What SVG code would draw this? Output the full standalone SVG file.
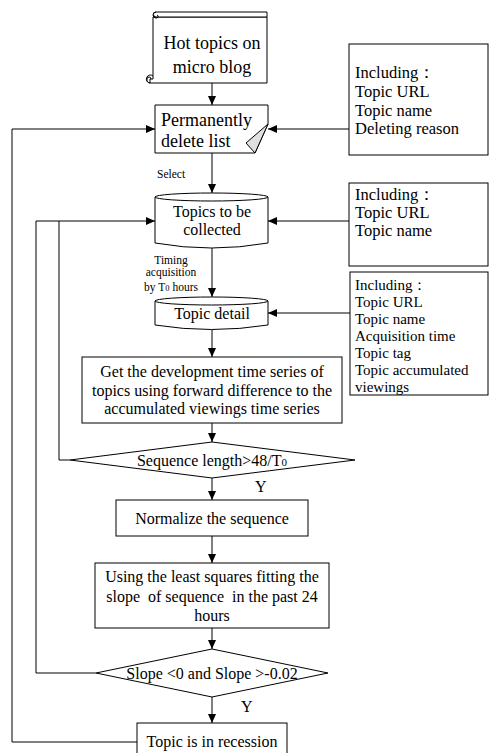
<svg xmlns="http://www.w3.org/2000/svg" width="490" height="753" viewBox="0 0 490 753">
<defs>
<marker id="arr" markerWidth="10" markerHeight="8" refX="9" refY="4" orient="auto" markerUnits="userSpaceOnUse">
<path d="M0,0 L9,4 L0,8 Z" fill="#000"/>
</marker>
<style>
.s{fill:#fff;stroke:#000;stroke-width:1}
.l{fill:none;stroke:#000;stroke-width:1}
.c{fill:none;stroke:#000;stroke-width:1;marker-end:url(#arr)}
text{font-family:"Liberation Serif","Times New Roman",serif;fill:#000}
.t18{font-size:18px}
.t16{font-size:16px}
.t17{font-size:16.5px}
.t15{font-size:15px}
.sm{font-size:11.5px}
.m{text-anchor:middle}
</style>
</defs>
<rect width="490" height="753" fill="#fff"/>

<g id="connectors">
<path class="c" d="M212,83 V105"/>
<path class="c" d="M212,153 V193"/>
<path class="c" d="M212,248 V297"/>
<path class="c" d="M212,330 V357"/>
<path class="c" d="M212,423 V442"/>
<path class="c" d="M212,478 V500"/>
<path class="c" d="M212,536 V563"/>
<path class="c" d="M212,628 V649"/>
<path class="c" d="M212,697 V723"/>
<path class="c" d="M349,129 H268"/>
<path class="c" d="M349,221 H268"/>
<path class="c" d="M350,313 H268"/>
<path class="c" d="M70,460 H59 V221 H155"/>
<path class="l" d="M96,673 H36 V221 H59"/>
<path class="c" d="M137,742 H12 V129 H155"/>
</g>

<g id="hot-topics">
<path class="s" d="M153,17 H267 V83 H150 V79 H153 Z"/>
<path class="s" d="M156,12 H267 V17 H156 A2.5,2.5 0 0 1 156,12 Z"/>
<path class="l" d="M156,12 A3,3 0 0 0 156,18 A1.5,1.5 0 0 0 157,15"/>
<path class="l" d="M153,76 A4,4 0 1 0 150,83"/>
<path class="l" d="M150,83 A3.5,3.5 0 0 1 147,79 A2,2 0 0 1 151,79"/>
<text class="t18 m" x="212" y="49">Hot topics on</text>
<text class="t18 m" x="212" y="73">micro blog</text>
</g>

<g id="delete-list">
<path class="s" d="M155,105 H268 V124 L255,153 H155 Z"/>
<polygon points="268,124 246,143 255,153" fill="#e0e0e0" stroke="#000" stroke-width="1"/>
<text class="t18" x="161" y="126">Permanently</text>
<text class="t18" x="161" y="147">delete list</text>
</g>

<g id="select-label">
<text class="sm" x="157" y="178">Select</text>
</g>

<g id="topics-collected">
<path class="s" d="M155,197 V243 Q211.5,253 268,243 V197"/>
<ellipse class="s" cx="211.5" cy="197" rx="56.5" ry="4"/>
<text class="t16 m" x="212" y="217">Topics to be</text>
<text class="t16 m" x="212" y="235">collected</text>
</g>

<g id="timing-label">
<text class="sm m" x="171" y="264">Timing</text>
<text class="sm m" x="171" y="276">acquisition</text>
<text class="sm m" x="171" y="291">by T<tspan font-size="8.5px">0</tspan> hours</text>
</g>

<g id="topic-detail">
<path class="s" d="M155,301 V325 Q211.5,334 268,325 V301"/>
<ellipse class="s" cx="211.5" cy="301" rx="56.5" ry="4"/>
<text class="t16 m" x="212" y="319">Topic detail</text>
</g>

<g id="get-series">
<rect class="s" x="82" y="357" width="260" height="66"/>
<text class="t16 m" x="212" y="377">Get the development time series of</text>
<text class="t16 m" x="212" y="396">topics using forward difference to the</text>
<text class="t16 m" x="212" y="414">accumulated viewings time series</text>
</g>

<g id="seq-length">
<polygon class="s" points="70,460 212,442 355,460 212,478"/>
<text class="t16 m" x="212" y="466">Sequence length&gt;48/T<tspan font-size="11px">0</tspan></text>
<text class="t16" x="255" y="492">Y</text>
</g>

<g id="normalize">
<rect class="s" x="116" y="500" width="192" height="36"/>
<text class="t16 m" x="212" y="524">Normalize the sequence</text>
</g>

<g id="least-squares">
<rect class="s" x="95" y="563" width="234" height="65"/>
<text class="t16 m" x="212" y="582">Using the least squares fitting the</text>
<text class="t16 m" x="212" y="602" xml:space="preserve">slope  of sequence  in the past 24</text>
<text class="t16 m" x="212" y="621">hours</text>
</g>

<g id="slope-check">
<polygon class="s" points="96,673 212,649 328,673 212,697"/>
<text class="t16 m" x="212" y="679">Slope &lt;0 and Slope &gt;-0.02</text>
<text class="t16" x="241" y="712">Y</text>
</g>

<g id="recession">
<rect class="s" x="137" y="723" width="150" height="40"/>
<text class="t16 m" x="212" y="747">Topic is in recession</text>
</g>

<g id="info-delete">
<rect class="s" x="349" y="44" width="139" height="111"/>
<text class="t17" x="355" y="78">Including：</text>
<text class="t17" x="355" y="97">Topic URL</text>
<text class="t17" x="355" y="116">Topic name</text>
<text class="t17" x="355" y="134">Deleting reason</text>
</g>

<g id="info-collected">
<rect class="s" x="349" y="183" width="139" height="83"/>
<text class="t17" x="355" y="200">Including：</text>
<text class="t17" x="355" y="218">Topic URL</text>
<text class="t17" x="355" y="236">Topic name</text>
</g>

<g id="info-detail">
<rect class="s" x="350" y="272" width="138" height="123"/>
<text class="t15" x="355" y="290">Including：</text>
<text class="t15" x="355" y="307">Topic URL</text>
<text class="t15" x="355" y="324">Topic name</text>
<text class="t15" x="355" y="341">Acquisition time</text>
<text class="t15" x="355" y="358">Topic tag</text>
<text class="t15" x="355" y="375">Topic accumulated</text>
<text class="t15" x="355" y="392">viewings</text>
</g>
</svg>
